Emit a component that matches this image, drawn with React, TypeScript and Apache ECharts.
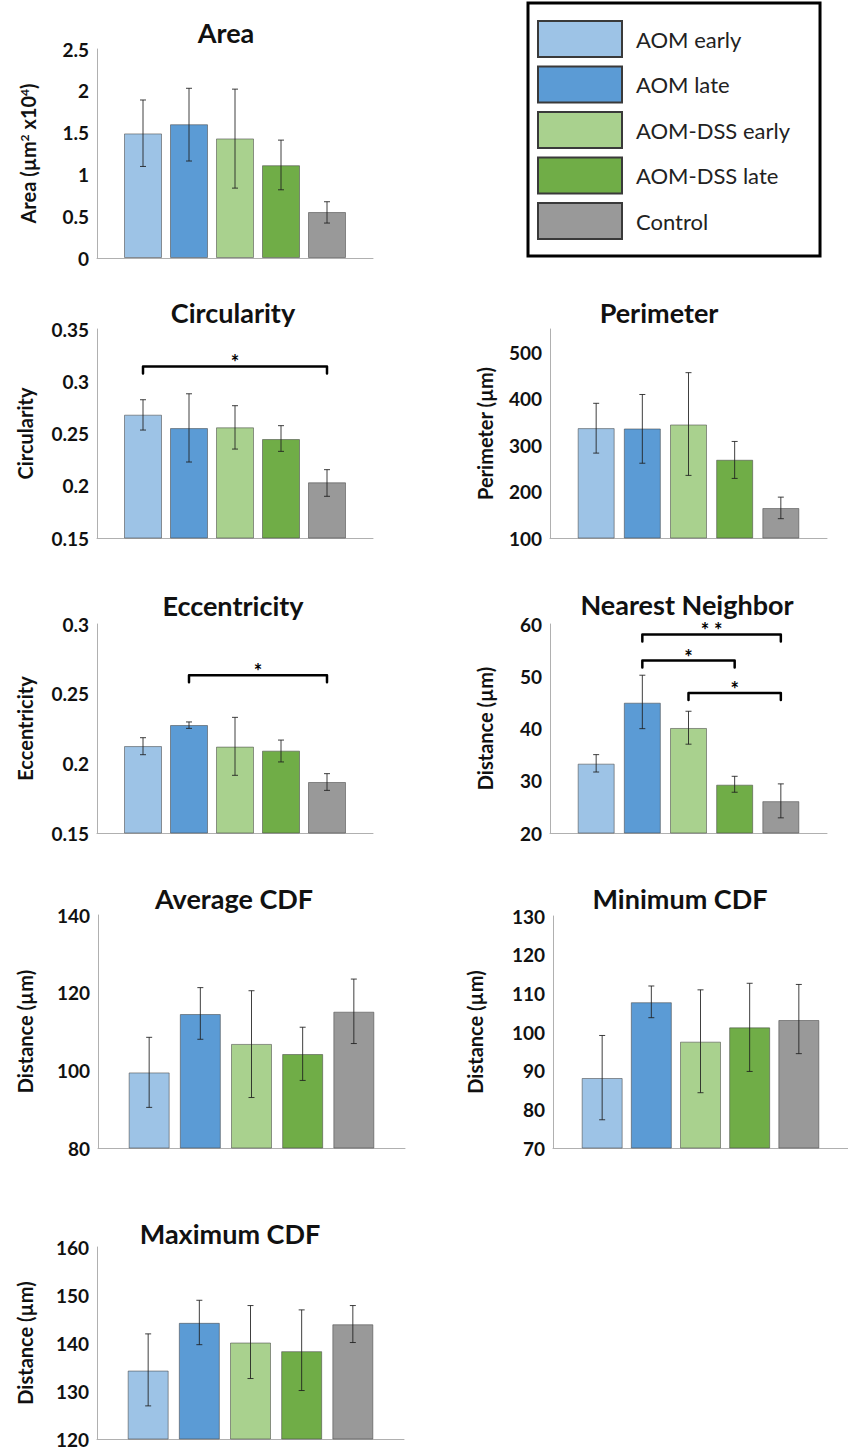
import React, { useEffect, useRef } from 'react';
import * as echarts from 'echarts';

const FONT = 'Lato';

const groups = ['AOM early', 'AOM late', 'AOM-DSS early', 'AOM-DSS late', 'Control'];
const groupColors = ['#9DC3E6', '#5B9BD5', '#A9D18E', '#70AD47', '#999999'];
const xCats = ['', ...groups, ''];

// Area (µm² x10⁴)
const areaMean = [1.49, 1.6, 1.43, 1.11, 0.55];
const areaLow = [1.095, 1.16, 0.836, 0.816, 0.418];
const areaHigh = [1.89, 2.03, 2.02, 1.41, 0.673];

// Circularity
const circMean = [0.268, 0.2552, 0.2559, 0.2447, 0.2033];
const circLow = [0.2533, 0.2227, 0.2351, 0.2329, 0.1899];
const circHigh = [0.2823, 0.288, 0.2766, 0.2575, 0.2154];
const circBrackets = [[1, 5, 0.3142]];
const circBracketLabels = ['*'];

// Perimeter (µm)
const perimMean = [336.6, 335.8, 344.4, 268.5, 164.5];
const perimLow = [282.8, 261, 234.8, 228.3, 141.6];
const perimHigh = [390, 409, 456, 307.9, 188];

// Eccentricity
const eccMean = [0.2124, 0.2275, 0.212, 0.2091, 0.1866];
const eccLow = [0.2062, 0.2251, 0.1914, 0.201, 0.1806];
const eccHigh = [0.2184, 0.2297, 0.233, 0.2167, 0.1926];
const eccBrackets = [[2, 5, 0.2632]];
const eccBracketLabels = ['*'];

// Nearest Neighbor distance (µm)
const nnMean = [33.27, 44.94, 40.1, 29.25, 26.1];
const nnLow = [31.67, 39.97, 37.0, 27.8, 22.9];
const nnHigh = [35.0, 50.2, 43.3, 30.85, 29.4];
const nnBrackets = [[2, 5, 58], [2, 4, 53], [3, 5, 46.8]];
const nnBracketLabels = ['* *', '*', '*'];

// Average CDF distance (µm)
const avgMean = [99.46, 114.5, 106.8, 104.2, 115.1];
const avgLow = [90.46, 108.0, 93.0, 97.4, 106.9];
const avgHigh = [108.5, 121.3, 120.5, 111.1, 123.5];

// Minimum CDF distance (µm)
const minMean = [88.1, 107.7, 97.5, 101.2, 103.1];
const minLow = [77.3, 103.7, 84.3, 89.8, 94.4];
const minHigh = [99.1, 111.9, 110.9, 112.6, 112.3];

// Maximum CDF distance (µm)
const maxMean = [134.26, 144.2, 140.1, 138.3, 143.9];
const maxLow = [126.9, 139.65, 132.6, 130.1, 140.1];
const maxHigh = [141.9, 148.9, 147.8, 146.9, 147.8];

type Panel = {
  title: string;
  yName: string;
  min: number;
  max: number;
  interval: number;
  mean: number[];
  low: number[];
  high: number[];
  brackets?: number[][];
  bracketLabels?: string[];
  hideMax?: boolean;
  left: number;
  top: number;
  width: number;
  height: number;
  barWidth: number;
  titleX: number;
  titleY: number;
  nameGap: number;
};

const panels: Panel[] = [
  { title: 'Area', yName: '{a|Area (µm}{s|2}{a| x10}{s|4}{a|)}', min: 0, max: 2.5, interval: 0.5,
    mean: areaMean, low: areaLow, high: areaHigh,
    left: 97, top: 49, width: 276, height: 209, barWidth: 38, titleX: 226, titleY: 32, nameGap: 59 },
  { title: 'Circularity', yName: 'Circularity', min: 0.15, max: 0.35, interval: 0.05,
    mean: circMean, low: circLow, high: circHigh, brackets: circBrackets, bracketLabels: circBracketLabels,
    left: 97, top: 329, width: 276, height: 209, barWidth: 38, titleX: 233, titleY: 312, nameGap: 62 },
  { title: 'Perimeter', yName: 'Perimeter (µm)', min: 100, max: 550, interval: 100, hideMax: true,
    mean: perimMean, low: perimLow, high: perimHigh,
    left: 550, top: 329, width: 277, height: 209, barWidth: 37, titleX: 659, titleY: 312, nameGap: 55 },
  { title: 'Eccentricity', yName: 'Eccentricity', min: 0.15, max: 0.3, interval: 0.05,
    mean: eccMean, low: eccLow, high: eccHigh, brackets: eccBrackets, bracketLabels: eccBracketLabels,
    left: 97, top: 624, width: 276, height: 209, barWidth: 38, titleX: 233, titleY: 605, nameGap: 62 },
  { title: 'Nearest Neighbor', yName: 'Distance (µm)', min: 20, max: 60, interval: 10,
    mean: nnMean, low: nnLow, high: nnHigh, brackets: nnBrackets, bracketLabels: nnBracketLabels,
    left: 550, top: 624, width: 277, height: 209, barWidth: 37, titleX: 687, titleY: 604, nameGap: 55 },
  { title: 'Average CDF', yName: 'Distance (µm)', min: 80, max: 140, interval: 20,
    mean: avgMean, low: avgLow, high: avgHigh,
    left: 98, top: 915, width: 307, height: 233, barWidth: 41, titleX: 234, titleY: 898, nameGap: 63 },
  { title: 'Minimum CDF', yName: 'Distance (µm)', min: 70, max: 130, interval: 10,
    mean: minMean, low: minLow, high: minHigh,
    left: 553, top: 916, width: 307, height: 232, barWidth: 41, titleX: 680, titleY: 898, nameGap: 68 },
  { title: 'Maximum CDF', yName: 'Distance (µm)', min: 120, max: 160, interval: 10,
    mean: maxMean, low: maxLow, high: maxHigh,
    left: 97, top: 1247, width: 307, height: 192, barWidth: 41, titleX: 230, titleY: 1233, nameGap: 62 },
];

function buildOption() {
  const series: any[] = [];
  panels.forEach((p, i) => {
    groups.forEach((g, k) => {
      series.push({
        type: 'bar',
        name: g,
        xAxisIndex: i,
        yAxisIndex: i,
        data: xCats.map((_, j) => (j === k + 1 ? p.mean[k] : '-')),
        barWidth: p.barWidth,
        barGap: '-100%',
        itemStyle: { color: groupColors[k], borderColor: 'rgba(70,70,70,0.55)', borderWidth: 1 },
        emphasis: { disabled: true },
      });
    });
    series.push({
      type: 'custom',
      name: 'err' + i,
      xAxisIndex: i,
      yAxisIndex: i,
      z: 5,
      clip: false,
      encode: { x: 0, y: [1, 2] },
      data: groups.map((_, k) => [k + 1, p.low[k], p.high[k]]),
      renderItem: (params: any, api: any) => {
        const lo = api.coord([api.value(0), api.value(1)]);
        const hi = api.coord([api.value(0), api.value(2)]);
        const x = lo[0];
        const c = 3;
        const st = { stroke: 'rgba(30,30,30,0.85)', lineWidth: 1 };
        return {
          type: 'group',
          children: [
            { type: 'line', shape: { x1: x, y1: lo[1], x2: x, y2: hi[1] }, style: st },
            { type: 'line', shape: { x1: x - c, y1: lo[1], x2: x + c, y2: lo[1] }, style: st },
            { type: 'line', shape: { x1: x - c, y1: hi[1], x2: x + c, y2: hi[1] }, style: st },
          ],
        };
      },
    });
    if (p.brackets) {
      const labels = p.bracketLabels || [];
      series.push({
        type: 'custom',
        name: 'sig' + i,
        xAxisIndex: i,
        yAxisIndex: i,
        z: 6,
        clip: false,
        encode: { x: [0, 1], y: 2 },
        data: p.brackets,
        renderItem: (params: any, api: any) => {
          const a = api.coord([api.value(0), api.value(2)]);
          const b = api.coord([api.value(1), api.value(2)]);
          const d = 7;
          return {
            type: 'group',
            children: [
              {
                type: 'polyline',
                shape: { points: [[a[0], a[1] + d], [a[0], a[1]], [b[0], b[1]], [b[0], b[1] + d]] },
                style: { stroke: '#000', lineWidth: 2.5, fill: null, lineJoin: 'round', lineCap: 'round' },
              },
              {
                type: 'text',
                style: {
                  text: labels[params.dataIndex],
                  x: (a[0] + b[0]) / 2,
                  y: a[1] + 5,
                  align: 'center',
                  verticalAlign: 'bottom',
                  font: `bold 20px ${FONT}`,
                  lineHeight: 18,
                  fill: '#000',
                },
              },
            ],
          };
        },
      });
    }
  });

  return {
    animation: false,
    backgroundColor: '#fff',
    textStyle: { fontFamily: FONT },
    title: panels.map((p) => ({
      text: p.title,
      left: p.titleX,
      top: p.titleY - 13,
      textAlign: 'center',
      padding: 0,
      textStyle: { fontSize: 27, fontWeight: 'bold', color: '#111', fontFamily: FONT, lineHeight: 26 },
    })),
    legend: {
      data: groups,
      orient: 'vertical',
      left: 528,
      top: 3,
      icon: 'rect',
      itemWidth: 84,
      itemHeight: 36,
      itemGap: 7.5,
      padding: [17, 30, 16, 9],
      borderColor: '#000',
      borderWidth: 3,
      selectedMode: false,
      itemStyle: { borderColor: '#3a3a3a', borderWidth: 2 },
      textStyle: { fontSize: 22, color: '#222', fontFamily: FONT, padding: [0, 0, 0, 9] },
    },
    grid: panels.map((p) => ({ left: p.left, top: p.top, width: p.width, height: p.height, containLabel: false })),
    xAxis: panels.map((p, i) => ({
      type: 'category',
      gridIndex: i,
      data: xCats,
      boundaryGap: false,
      axisLine: { onZero: false, lineStyle: { color: '#b0b0b0', width: 1 } },
      axisTick: { show: false },
      axisLabel: { show: false },
      splitLine: { show: false },
    })),
    yAxis: panels.map((p, i) => ({
      type: 'value',
      gridIndex: i,
      min: p.min,
      max: p.max,
      interval: p.interval,
      name: p.yName,
      nameLocation: 'middle',
      nameGap: p.nameGap,
      nameTextStyle: {
        fontSize: 20,
        fontWeight: 'bold',
        color: '#111',
        fontFamily: FONT,
        rich: {
          a: { fontSize: 20, fontWeight: 'bold', color: '#111', fontFamily: FONT },
          s: { fontSize: 12, fontWeight: 'bold', color: '#111', fontFamily: FONT, verticalAlign: 'top' },
        },
      },
      axisLine: { show: true, lineStyle: { color: '#b0b0b0', width: 1 } },
      axisTick: { show: false },
      splitLine: { show: false },
      axisLabel: {
        fontSize: 19,
        fontWeight: 'bold',
        color: '#111',
        fontFamily: FONT,
        margin: 8,
        showMaxLabel: !p.hideMax,
      },
    })),
    series,
  };
}

export default function App() {
  const ref = useRef<HTMLDivElement>(null);
  useEffect(() => {
    if (!ref.current) return;
    const chart = echarts.init(ref.current, undefined, { renderer: 'svg' });
    chart.setOption(buildOption() as any);
    return () => chart.dispose();
  }, []);
  return (
    <div
      ref={ref}
      style={{ position: 'absolute', left: 0, top: 0, width: 848, height: 1449, background: '#fff' }}
    />
  );
}
